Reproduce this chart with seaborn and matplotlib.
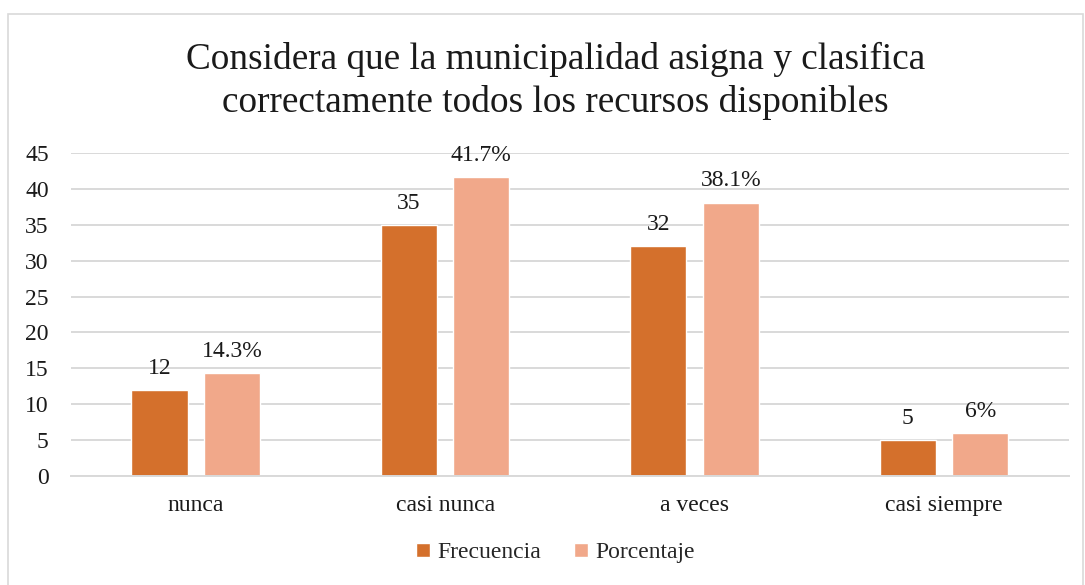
import numpy as np
import matplotlib.pyplot as plt
import seaborn as sns
import pandas as pd
from matplotlib.patches import Rectangle

categorias = ["nunca", "casi nunca", "a veces", "casi siempre"]
frecuencia = [12, 35, 32, 5]
porcentaje = [14.3, 41.7, 38.1, 6.0]
etiquetas_pct = ["14.3%", "41.7%", "38.1%", "6%"]

color1 = "#D4702C"
color2 = "#F1A88A"

sns.set_style("white")
plt.rcParams["font.family"] = ["Liberation Serif", "DejaVu Serif"]

data = pd.DataFrame({
    "categoria": categorias * 2,
    "valor": frecuencia + porcentaje,
    "serie": ["Frecuencia"] * 4 + ["Porcentaje"] * 4,
})

fig = plt.figure(figsize=(10.85, 5.85), dpi=100)
ax = fig.add_axes([0.0654, 0.1863, 0.9196, 0.5522])

sns.barplot(data=data, x="categoria", y="valor", hue="serie", ax=ax,
            palette=[color1, color2], width=0.58, gap=0.224,
            saturation=1, legend=True)

ax.set_ylim(0, 45)
ax.set_xlim(-0.5, 3.5)
ax.set_yticks(range(0, 46, 5))
ax.yaxis.grid(True, color="#D9D9D9", linewidth=1.4)
ax.set_axisbelow(True)
for s in ["top", "right", "left"]:
    ax.spines[s].set_visible(False)
ax.spines["bottom"].set_color("#D9D9D9")
ax.spines["bottom"].set_linewidth(1.4)
ax.tick_params(axis="both", length=0, labelsize=17, colors="#1a1a1a")
ax.tick_params(axis="y", pad=16)
ax.tick_params(axis="x", pad=14)
ax.set_xlabel("")
ax.set_ylabel("")

ax.bar_label(ax.containers[0], labels=[str(v) for v in frecuencia],
             padding=8, fontsize=17, color="#1a1a1a")
ax.bar_label(ax.containers[1], labels=etiquetas_pct,
             padding=8, fontsize=17, color="#1a1a1a")

handles, labels = ax.get_legend_handles_labels()
ax.get_legend().remove()
fig.legend(handles, labels, loc="center", bbox_to_anchor=(0.512, 0.055),
           ncol=2, frameon=False, fontsize=17, handlelength=0.6,
           handleheight=0.6, columnspacing=1.4, handletextpad=0.3)

fig.text(0.512, 0.862,
         "Considera que la municipalidad asigna y clasifica\ncorrectamente todos los recursos disponibles",
         ha="center", va="center", fontsize=26.8, color="#1a1a1a", linespacing=1.3)

fig.patches.append(Rectangle((8 / 1085, -0.01), 1075 / 1085, 1 - 14 / 585 + 0.01,
                             transform=fig.transFigure, fill=False,
                             edgecolor="#D9D9D9", linewidth=1.2))

plt.savefig("out.png", dpi=100)
